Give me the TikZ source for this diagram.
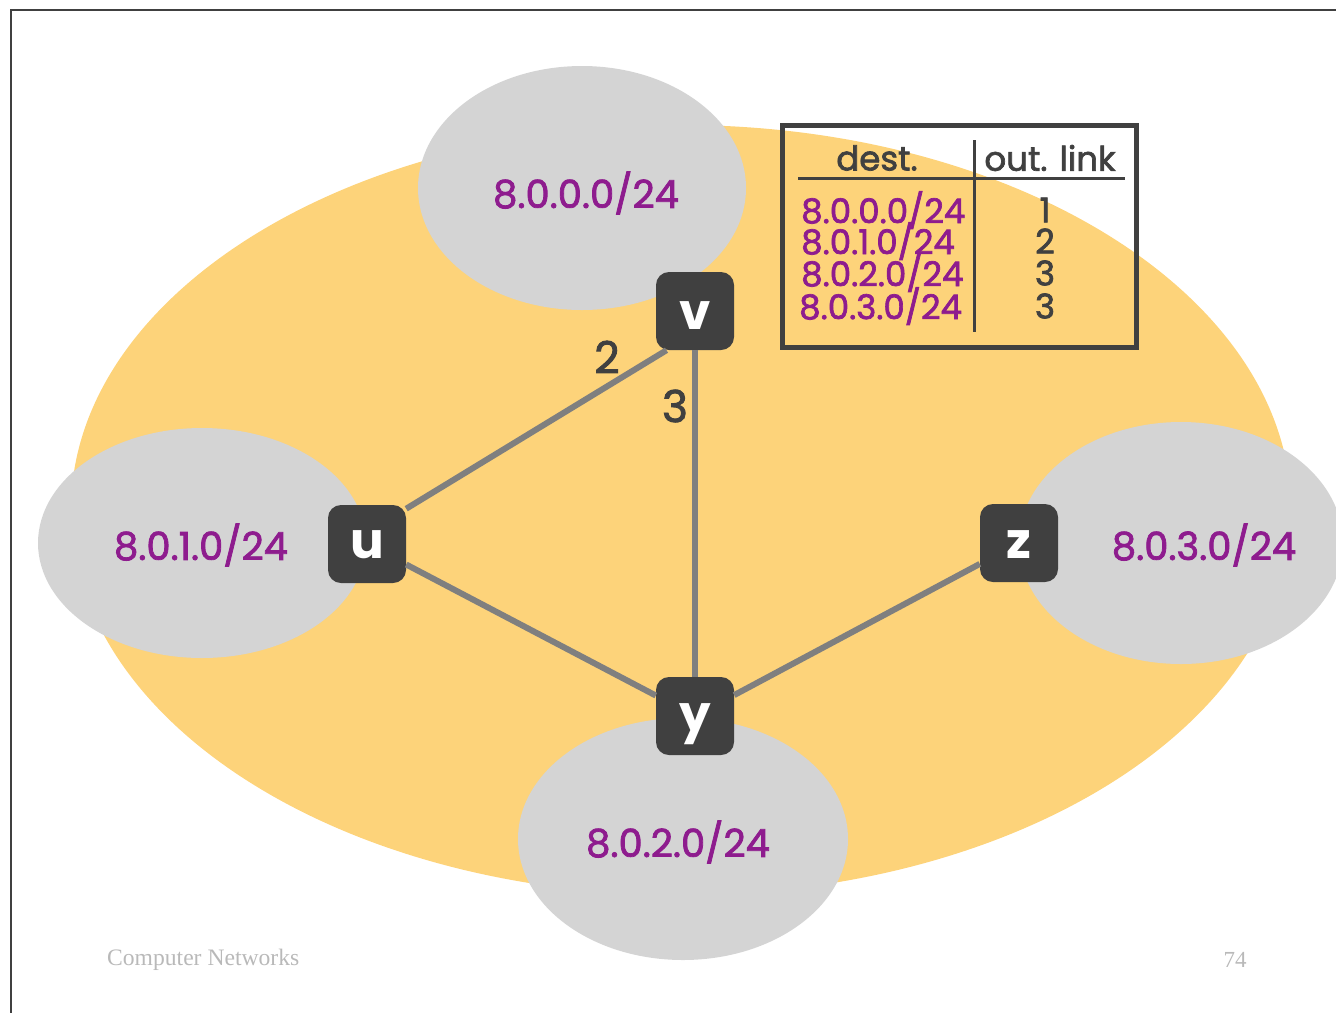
\documentclass[tikz,border=0pt]{standalone}
\usepackage{fontspec}
\setmainfont{Poppins}
\newfontfamily\footfont{Liberation Serif}
\newfontfamily\comic[FakeBold=2]{Poppins}
\definecolor{yel}{RGB}{253,211,122}
\definecolor{gry}{RGB}{212,212,212}
\definecolor{rtr}{RGB}{64,64,64}
\definecolor{lnk}{RGB}{127,127,127}
\definecolor{pur}{RGB}{142,28,142}
\definecolor{foot}{RGB}{185,185,185}
\tikzset{
  router/.style={fill=rtr, rounded corners=13pt, minimum width=78pt, minimum height=78pt, inner sep=0pt,
     text=white, text depth=0pt, font=\fontsize{50}{50}\selectfont\bfseries},
  link/.style={draw=lnk, line width=6pt},
  subnet/.style={text=pur, font=\comic\fontsize{38.5}{40}\selectfont},
  tabtxt/.style={font=\comic\fontsize{34}{34}\selectfont, inner sep=0pt},
  lbl/.style={text=rtr, font=\comic\fontsize{44}{44}\selectfont, inner sep=0pt},
}
\begin{document}
\begin{tikzpicture}[x=1pt,y=-1pt]
\useasboundingbox (0,0) rectangle (1336,1013);
% slide frame
\draw[rtr, line width=1.5pt] (1336,10) -- (11,10) -- (11,1013);
% big area
\fill[yel] (681,510) ellipse [x radius=610, y radius=385];
% subnets
\fill[gry] (582,188) ellipse [x radius=164, y radius=122];
\fill[gry] (202,543) ellipse [x radius=164, y radius=115];
\fill[gry] (1181,543) ellipse [x radius=162, y radius=121];
\fill[gry] (683,839) ellipse [x radius=165, y radius=121];
\node[subnet] (s0) at (586,193) {8.0.0.0/24};
\node[subnet] (s1) at (201,545) {8.0.1.0/24};
\node[subnet] (s3) at (1204,545) {8.0.3.0/24};
\node[subnet] (s2) at (678,842) {8.0.2.0/24};
% routers
\node[router, text height=36pt] (v) at (695,311) {v};
\node[router, text height=29pt] (u) at (367,544) {u};
\node[router, text height=31pt] (z) at (1019,543) {z};
\node[router, text height=31pt] (y) at (695,716) {y};
% links
\draw[link] (u.42) -- (v.234);
\draw[link] (v) -- (y);
\draw[link] (u) -- (y);
\draw[link] (y) -- (z);
\node[lbl] (l2) at (607,357) {2};
\node[lbl] (l3) at (675,406) {3};
% table
\node[draw=rtr, line width=5pt, minimum width=354pt, minimum height=222pt, inner sep=0pt] (tbl) at (959,236) {};
\coordinate (hl) at (798,178);
\coordinate (hr) at (1125,178);
\coordinate (vt) at (974,140);
\coordinate (vb) at (974,332);
\draw[rtr, line width=3pt] (hl) -- (hr);
\draw[rtr, line width=3pt] (vt) -- (vb);
\node[tabtxt, text=rtr] (hd) at (877,158) {dest.};
\node[tabtxt, text=rtr] (ho) at (1050,158) {out. link};
\node[tabtxt, text=pur, anchor=west] (r0) at (801,210) {8.0.0.0/24};
\node[tabtxt, text=pur, anchor=west] (r1) at (801,241) {8.0.1.0/24};
\node[tabtxt, text=pur, anchor=west] (r2) at (801,273) {8.0.2.0/24};
\node[tabtxt, text=pur, anchor=west] (r3) at (799,306) {8.0.3.0/24};
\node[tabtxt, text=rtr] (n0) at (1045,210) {1};
\node[tabtxt, text=rtr] (n1) at (1045,241) {2};
\node[tabtxt, text=rtr] (n2) at (1045,273) {3};
\node[tabtxt, text=rtr] (n3) at (1045,306) {3};
% footer
\node[text=foot, font=\footfont\fontsize{23.6}{24}\selectfont, anchor=west, inner sep=0pt] (ft) at (107,960) {Computer Networks};
\node[text=foot, font=\footfont\fontsize{23}{24}\selectfont, inner sep=0pt] (pg) at (1235,960) {74};
\end{tikzpicture}
\end{document}
